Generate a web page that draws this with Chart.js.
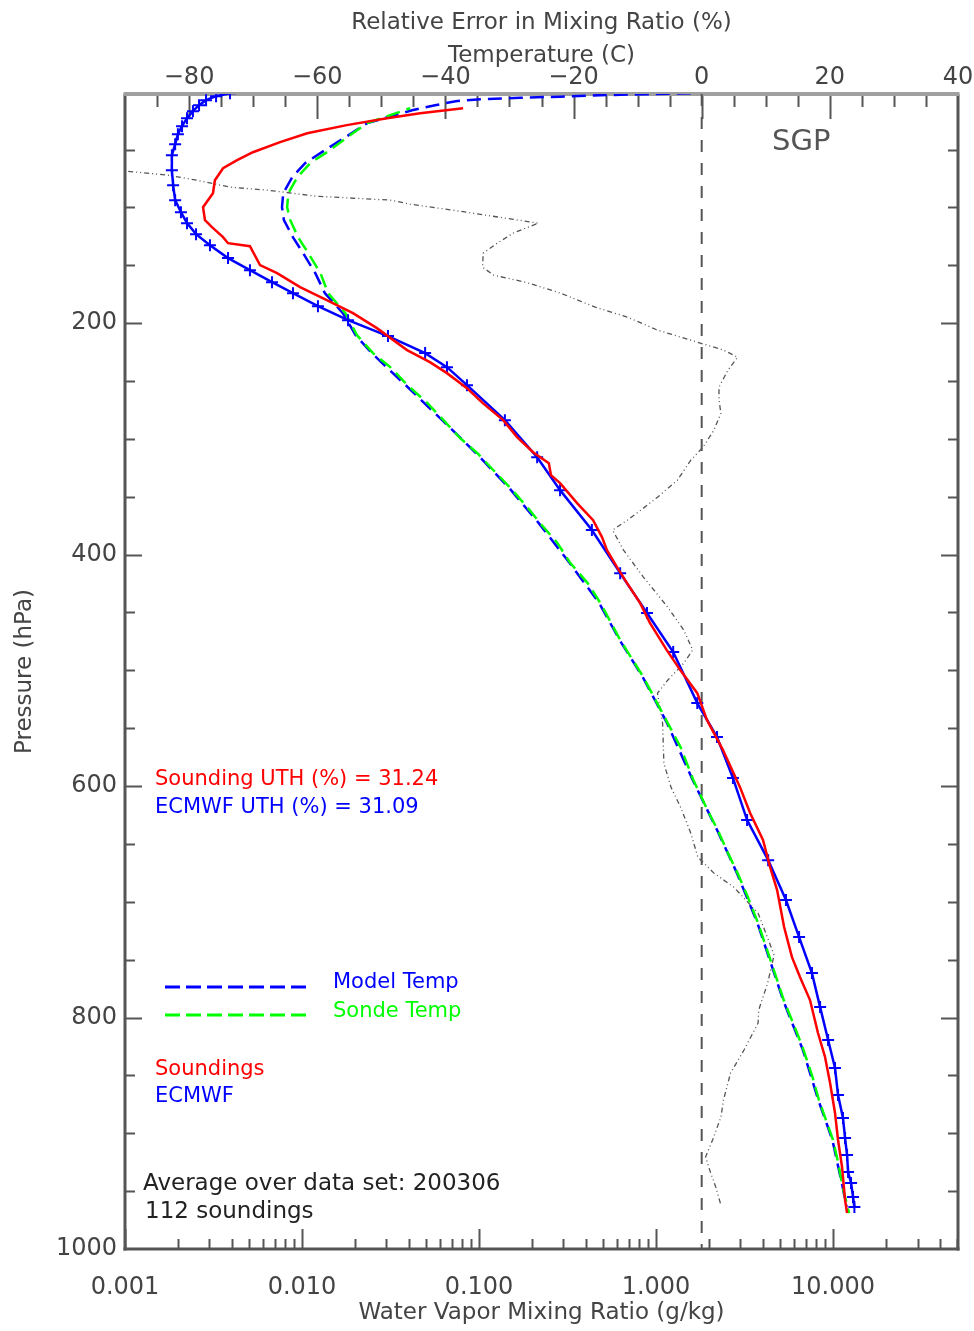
<!DOCTYPE html>
<html>
<head>
<meta charset="utf-8">
<script src="https://cdn.jsdelivr.net/npm/chart.js@4.4.0/dist/chart.umd.min.js"></script>
<style>
  body { margin: 0; background: #fff; }
</style>
</head>
<body>
<canvas id="uth" width="974" height="1331"></canvas>
<script>
// Soundings mixing ratio (g/kg) vs pressure (hPa)
const soundPres = [14.3, 18.6, 22.9, 28.9, 35.9, 43.6, 52.3, 59.2, 66.1, 76.5, 87.7, 99.8, 111.0, 117.1, 125.7, 130.9, 133.5, 149.9, 156.8, 168.9, 180.1, 191.4, 204.3, 223.3, 233.7, 243.2, 256.2, 269.1, 283.8, 298.5, 311.5, 321.0, 331.3, 338.2, 355.5, 370.2, 384.9, 396.1, 410.8, 424.6, 441.9, 459.2, 482.5, 499.8, 519.7, 543.0, 568.9, 600.9, 623.3, 646.6, 670.0, 689.9, 721.8, 747.8, 765.1, 784.9, 813.4, 834.1, 856.6, 882.5, 905.8, 929.1, 957.6, 968.9];
const soundMix = [0.0813, 0.0465, 0.0302, 0.0179, 0.0107, 0.00752, 0.00528, 0.00430, 0.00358, 0.00322, 0.00314, 0.00276, 0.00283, 0.00310, 0.00358, 0.00382, 0.00508, 0.00579, 0.00723, 0.00975, 0.0138, 0.0194, 0.0265, 0.0392, 0.0528, 0.0659, 0.0855, 0.105, 0.137, 0.164, 0.202, 0.248, 0.255, 0.287, 0.358, 0.441, 0.495, 0.528, 0.602, 0.686, 0.813, 0.925, 1.15, 1.37, 1.71, 1.94, 2.39, 2.98, 3.40, 4.02, 4.41, 4.83, 5.29, 5.86, 6.51, 7.41, 8.22, 9.01, 9.62, 10.26, 10.67, 11.24, 11.69, 12.0];

// ECMWF mixing ratio on model levels
const ecmwfPres = [1.3, 3.9, 7.3, 11.7, 16.8, 22.9, 29.8, 36.7, 45.4, 54.9, 67.8, 80.8, 93.7, 104.1, 113.6, 123.1, 132.6, 143.8, 154.2, 164.6, 174.1, 185.3, 197.4, 211.2, 225.9, 238.0, 253.6, 283.8, 315.8, 344.3, 378.8, 416.0, 450.5, 484.2, 528.3, 557.6, 593.1, 629.4, 664.0, 698.5, 730.5, 761.6, 791.0, 819.4, 843.6, 867.0, 886.8, 904.1, 918.8, 933.5, 943.0, 955.1, 963.7];
const ecmwfMix = [0.00392, 0.00327, 0.00287, 0.00262, 0.00242, 0.00224, 0.00210, 0.00199, 0.00192, 0.00184, 0.00184, 0.00187, 0.00192, 0.00207, 0.00224, 0.00252, 0.00302, 0.00382, 0.00508, 0.00677, 0.00889, 0.0123, 0.0182, 0.0306, 0.0496, 0.0659, 0.0855, 0.140, 0.213, 0.287, 0.434, 0.627, 0.889, 1.25, 1.71, 2.21, 2.72, 3.27, 4.30, 5.42, 6.43, 7.60, 8.45, 9.38, 10.26, 10.67, 11.38, 11.69, 12.0, 12.16, 12.64, 12.97, 13.2];

// Sonde temperature (C)
const sondePres = [14.3, 27.2, 39.3, 50.5, 61.8, 73.9, 87.7, 99.8, 111.0, 125.7, 139.5, 156.8, 174.1, 191.4, 210.4, 225.9, 238.0, 253.6, 269.1, 283.8, 299.4, 312.4, 327.1, 342.7, 359.2, 373.0, 390.1, 407.3, 424.6, 441.9, 473.9, 505.8, 525.7, 545.6, 566.3, 594.8, 620.7, 638.0, 657.9, 675.2, 695.9, 718.4, 756.4, 784.9, 810.8, 828.1, 851.4, 871.3, 888.6, 905.8, 925.7, 946.5, 969.0];
const sondeTemp = [-45.5, -52.2, -55.3, -58.0, -61.1, -63.1, -64.5, -64.7, -64.2, -63.0, -61.4, -59.5, -58.3, -55.6, -53.8, -51.3, -48.6, -45.9, -42.8, -40.3, -37.7, -35.0, -32.5, -29.8, -27.2, -25.2, -22.5, -20.5, -17.8, -15.8, -12.7, -9.1, -7.2, -5.3, -3.3, -1.3, 0.9, 2.5, 4.1, 5.6, 7.2, 8.8, 11.1, 12.8, 14.7, 15.9, 17.3, 18.3, 19.4, 20.5, 21.3, 22.0, 23.0];

// Model temperature (C)
const modelPres = [1.3, 2.2, 3.0, 4.3, 5.2, 6.5, 8.2, 11.7, 16.0, 27.2, 39.3, 50.5, 61.8, 73.9, 87.7, 99.8, 111.0, 125.7, 139.5, 156.8, 174.1, 191.4, 210.4, 225.9, 253.6, 283.8, 312.4, 342.7, 373.0, 407.3, 441.9, 473.9, 505.8, 545.6, 594.8, 638.0, 675.2, 718.4, 756.4, 784.9, 828.1, 871.3, 905.8, 946.5, 963.7];
const modelTemp = [-1.7, -8.8, -15.8, -22.0, -28.3, -34.5, -38.4, -41.6, -45.2, -52.2, -55.6, -58.8, -61.9, -63.9, -65.3, -65.5, -65.2, -63.8, -62.2, -60.3, -58.8, -56.0, -54.0, -51.5, -46.2, -40.5, -35.2, -30.0, -25.4, -20.6, -16.0, -12.8, -9.2, -5.4, -1.4, 2.4, 5.5, 8.7, 11.0, 12.7, 15.8, 18.2, 20.4, 22.0, 22.6];

// Relative error in mixing ratio (%)
const errPres = [68.8, 72.1, 76.5, 82.5, 85.1, 90.3, 93.7, 97.2, 102.4, 109.3, 113.6, 122.2, 130.9, 139.5, 151.6, 158.5, 164.6, 174.1, 186.2, 194.8, 206.0, 214.7, 223.3, 229.4, 240.6, 255.3, 266.5, 277.8, 292.5, 307.2, 318.4, 335.7, 350.4, 361.6, 370.2, 378.8, 396.1, 419.4, 445.4, 465.2, 482.5, 493.8, 508.5, 519.7, 545.6, 580.2, 600.9, 618.2, 640.7, 661.4, 675.2, 687.3, 709.8, 727.0, 746.0, 770.2, 793.5, 804.8, 828.1, 848.0, 871.3, 886.0, 905.8, 920.5, 934.3, 946.5, 962.0];
const relErr = [-89.5, -83.3, -78.8, -73.6, -67.7, -60.2, -48.6, -45.5, -38.8, -30.6, -25.5, -29.4, -31.9, -34.1, -34.2, -32.5, -27.5, -22.0, -16.6, -11.6, -6.9, -1.7, 3.4, 5.6, 4.1, 2.7, 2.7, 3.0, 1.9, 0.2, -1.7, -3.8, -6.9, -9.5, -11.6, -13.9, -12.2, -9.1, -5.3, -2.8, -1.4, -2.8, -5.3, -6.9, -6.1, -5.9, -4.8, -3.3, -1.7, -0.6, 1.9, 5.0, 8.8, 10.0, 11.3, 10.3, 8.9, 8.8, 6.6, 4.5, 3.4, 3.0, 1.7, 0.6, 1.4, 2.2, 3.0];

// zero reference line
const zeroPres = [2, 1000];
const zeroVal = [0, 0];

// labelled ticks
const presTicks = [200, 400, 600, 800, 1000];
const tempTicks = [-80, -60, -40, -20, 0, 20, 40];
const mixTicks = [0.001, 0.01, 0.1, 1, 10];

const FONT = 'DejaVu Sans';

function pts(xs, ps) {
    return xs.map((v, i) => ({x: v, y: ps[i]}));
}

function minus(v) {
    return v < 0 ? '\u2212' + (-v) : String(v);
}

// no extra room for overflowing end labels
function fixHeight(h) {
    return (s) => { s.height = h; s.paddingLeft = 0; s.paddingRight = 0; };
}

function setTicks(vals) {
    return (s) => { s.ticks = vals.map(v => ({value: v})); };
}

const frameTicks = {
    id: 'frameTicks',
    beforeDatasetsDraw(chart) {
        const {ctx, chartArea: a, scales} = chart;
        ctx.save();
        ctx.strokeStyle = '#555';
        ctx.lineWidth = 2;
        const seg = (x1, y1, x2, y2) => {
            ctx.beginPath(); ctx.moveTo(x1, y1); ctx.lineTo(x2, y2); ctx.stroke();
        };
        // pressure ticks on both sides
        for (let p = 50; p < 1000; p += 50) {
            const py = Math.round(scales.y.getPixelForValue(p)) + 0.5;
            const len = p % 200 === 0 ? 17 : 10;
            seg(a.left, py, a.left + len, py);
            seg(a.right, py, a.right - len, py);
        }
        // temperature ticks along the top
        for (let t = -85; t < 40; t += 5) {
            const px = Math.round(scales.xT.getPixelForValue(t)) + 0.5;
            seg(px, a.top, px, a.top + (t % 20 === 0 ? 25 : 13));
        }
        // log ticks along the bottom
        for (let e = -3; e <= 1; e++) {
            for (let m = 1; m <= 9; m++) {
                const v = m * Math.pow(10, e);
                if (v >= scales.x.max) break;
                const px = Math.round(scales.x.getPixelForValue(v)) + 0.5;
                seg(px, a.bottom, px, a.bottom - (m === 1 ? 20 : 10));
            }
        }
        // frame
        ctx.lineWidth = 3;
        ctx.strokeStyle = '#555';
        seg(a.left, a.top, a.left, a.bottom + 1.5);
        seg(a.right, a.top, a.right, a.bottom + 1.5);
        seg(a.left - 1.5, a.bottom, a.right + 1.5, a.bottom);
        ctx.lineWidth = 4;
        ctx.strokeStyle = '#a0a0a0';
        seg(a.left - 1.5, a.top, a.right + 1.5, a.top);
        ctx.restore();
    },
    afterDraw(chart) {
        const ctx = chart.ctx;
        ctx.save();
        ctx.textBaseline = 'middle';
        ctx.textAlign = 'left';
        const txt = (s, x, y, color, size) => {
            ctx.font = size + 'px "' + FONT + '"';
            ctx.fillStyle = color;
            ctx.fillText(s, x, y);
        };
        txt('SGP', 772, 142, '#555', 29);
        txt('Sounding UTH (%) = 31.24', 155, 780, '#ff0000', 21);
        txt('ECMWF UTH (%) = 31.09', 155, 808, '#0000ff', 21);
        ctx.lineWidth = 3;
        ctx.setLineDash([15, 6]);
        ctx.strokeStyle = '#0000ff';
        ctx.beginPath(); ctx.moveTo(165, 987); ctx.lineTo(312, 987); ctx.stroke();
        ctx.strokeStyle = '#00ff00';
        ctx.beginPath(); ctx.moveTo(165, 1015); ctx.lineTo(312, 1015); ctx.stroke();
        ctx.setLineDash([]);
        txt('Model Temp', 333, 983, '#0000ff', 21);
        txt('Sonde Temp', 333, 1012, '#00ff00', 21);
        txt('Soundings', 155, 1070, '#ff0000', 21);
        txt('ECMWF', 155, 1097, '#0000ff', 21);
        txt('Average over data set: 200306', 143, 1184, '#222', 23);
        txt('112 soundings', 145, 1212, '#222', 23);
        ctx.restore();
    }
};

new Chart(document.getElementById('uth'), {
    type: 'scatter',
    data: {
        datasets: [
            {
                label: 'Soundings',
                data: pts(soundMix, soundPres),
                xAxisID: 'x',
                showLine: true,
                borderColor: '#ff0000',
                borderWidth: 2.5,
                pointRadius: 0
            },
            {
                label: 'ECMWF',
                data: pts(ecmwfMix, ecmwfPres),
                xAxisID: 'x',
                showLine: true,
                borderColor: '#0000ff',
                backgroundColor: '#0000ff',
                borderWidth: 2.5,
                pointStyle: 'cross',
                pointRadius: 6,
                pointBorderWidth: 2,
                pointBorderColor: '#0000ff'
            },
            {
                label: 'Sonde Temp',
                data: pts(sondeTemp, sondePres),
                xAxisID: 'xT',
                showLine: true,
                borderColor: '#00ff00',
                borderWidth: 2.5,
                borderDash: [14, 7],
                borderDashOffset: 10,
                pointRadius: 0
            },
            {
                label: 'Model Temp',
                data: pts(modelTemp, modelPres),
                xAxisID: 'xT',
                showLine: true,
                borderColor: '#0000ff',
                borderWidth: 2.5,
                borderDash: [14, 7],
                pointRadius: 0
            },
            {
                label: 'Relative Error',
                data: pts(relErr, errPres),
                xAxisID: 'xE',
                showLine: true,
                borderColor: '#555',
                borderWidth: 1.3,
                borderDash: [5, 3, 1, 3, 1, 3],
                pointRadius: 0
            },
            {
                label: 'zero',
                data: pts(zeroVal, zeroPres),
                xAxisID: 'xT',
                showLine: true,
                borderColor: '#555',
                borderWidth: 2,
                borderDash: [12, 11],
                pointRadius: 0
            }
        ]
    },
    options: {
        responsive: false,
        animation: false,
        devicePixelRatio: 1,
        layout: { padding: { left: 0, right: 16, top: 0, bottom: 0 } },
        plugins: {
            legend: { display: false },
            tooltip: { enabled: false }
        },
        scales: {
            x: {
                type: 'logarithmic',
                position: 'bottom',
                min: 0.001,
                max: 50.8,
                grid: { display: false, drawTicks: false },
                border: { display: false },
                afterBuildTicks: setTicks(mixTicks),
                ticks: {
                    autoSkip: false,
                    maxRotation: 0,
                    padding: 24,
                    color: '#444',
                    font: { family: FONT, size: 24 },
                    callback: (v) => Number(v).toFixed(3)
                },
                title: {
                    display: true,
                    text: 'Water Vapor Mixing Ratio (g/kg)',
                    color: '#444',
                    font: { family: FONT, size: 23 },
                    padding: { top: 0, bottom: 4 }
                },
                afterFit: fixHeight(82)
            },
            xT: {
                type: 'linear',
                position: 'top',
                min: -90,
                max: 40,
                grid: { display: false, drawTicks: false },
                border: { display: false },
                afterBuildTicks: setTicks(tempTicks),
                ticks: {
                    autoSkip: false,
                    maxRotation: 0,
                    padding: 2,
                    color: '#444',
                    font: { family: FONT, size: 24 },
                    callback: (v) => minus(v)
                },
                title: {
                    display: true,
                    text: ['Relative Error in Mixing Ratio (%)', 'Temperature (C)'],
                    color: '#444',
                    font: { family: FONT, size: 23, lineHeight: 1.43 },
                    padding: { top: 7, bottom: 0 }
                },
                afterFit: fixHeight(94)
            },
            xE: {
                type: 'linear',
                position: 'top',
                min: -90,
                max: 40,
                display: false
            },
            y: {
                type: 'linear',
                position: 'left',
                reverse: true,
                min: 2,
                max: 1000,
                grid: { display: false, drawTicks: false },
                border: { display: false },
                afterBuildTicks: setTicks(presTicks),
                ticks: {
                    autoSkip: false,
                    padding: 8,
                    color: '#444',
                    font: { family: FONT, size: 24 },
                    callback: (v) => String(v)
                },
                title: {
                    display: true,
                    text: 'Pressure (hPa)',
                    color: '#444',
                    font: { family: FONT, size: 23 },
                    padding: { top: 11, bottom: 0 }
                },
                afterFit: (s) => { s.width = 125; s.paddingTop = 0; s.paddingBottom = 0; }
            }
        }
    },
    plugins: [frameTicks]
});
</script>
</body>
</html>
